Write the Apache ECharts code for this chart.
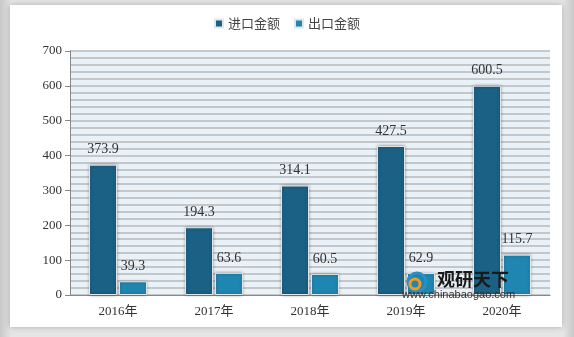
<!DOCTYPE html>
<html><head><meta charset="utf-8">
<script src="https://cdn.jsdelivr.net/npm/echarts@6/dist/echarts.min.js"></script>
<style>html,body{margin:0;padding:0;background:#d9d9d9;}#c{width:574px;height:337px;}</style>
</head><body><div id="c"></div>
<script>
const categories = ['2016年','2017年','2018年','2019年','2020年'];
const importValues = [373.9, 194.3, 314.1, 427.5, 600.5];
const exportValues = [39.3, 63.6, 60.5, 62.9, 115.7];
const seriesNames = ['进口金额','出口金额'];

const chart = echarts.init(document.getElementById('c'));
const serif = '"Liberation Serif","DejaVu Serif","Noto Sans CJK SC",serif';
const labelStyle = {show:true, position:'top', distance:8, color:'#333', fontSize:14, fontFamily:serif};
const barItem = (c) => ({color:c, borderColor:'#e6e6e6', borderWidth:1, shadowBlur:3, shadowColor:'rgba(0,0,0,0.35)'});
chart.setOption({
  backgroundColor:'transparent',
  animation:false,
  graphic:[
    {type:'rect', z:-10, shape:{x:0,y:0,width:574,height:337}, style:{fill:new echarts.graphic.LinearGradient(0,0,1,0,[{offset:0,color:'#c8c8c8'},{offset:0.02,color:'#e6e6e6'},{offset:0.98,color:'#e6e6e6'},{offset:1,color:'#c8c8c8'}])}},
    {type:'rect', z:-9, shape:{x:10,y:5,width:552,height:322}, style:{fill:'#ffffff', shadowBlur:6, shadowColor:'rgba(0,0,0,0.25)'}},
    {type:'circle', z:50, shape:{cx:417,cy:282,r:9}, style:{fill:'none', stroke:'#2a8fc5', lineWidth:3}},
    {type:'circle', z:50, shape:{cx:415,cy:284,r:5}, style:{fill:'none', stroke:'#f39a1e', lineWidth:3}},
    {type:'text', z:50, left:437, top:270, style:{text:'观研天下', font:'bold 18px "Noto Sans CJK SC"', fill:'#1a1a1a'}},
    {type:'text', z:50, left:402, top:289, style:{text:'www.chinabaogao.com', font:'11px "Liberation Sans",sans-serif', fill:'#333'}}
  ],
  legend:{top:12, left:'center', itemWidth:8, itemHeight:8, itemGap:14, icon:'rect',
    textStyle:{fontSize:13, color:'#444', fontFamily:'"Noto Sans CJK SC"'}, data:seriesNames},
  grid:{left:70, right:24, top:51, bottom:42, show:true, backgroundColor:'#eaf2f9', borderWidth:0},
  xAxis:{type:'category', data:categories,
    axisLine:{lineStyle:{color:'#888', width:1}}, axisTick:{show:false},
    axisLabel:{color:'#333', fontSize:13, fontFamily:serif, margin:10}},
  yAxis:{type:'value', min:0, max:700, interval:100,
    axisLine:{show:true, lineStyle:{color:'#888'}}, axisTick:{show:true, length:5, lineStyle:{color:'#888'}},
    axisLabel:{color:'#333', fontSize:13, fontFamily:serif, margin:8},
    splitLine:{show:true, lineStyle:{color:'#b8b8b8', width:1.5}},
    minorTick:{show:false, splitNumber:5},
    minorSplitLine:{show:true, lineStyle:{color:'#b8b8b8', width:1.5}}},
  series:[
    {name:seriesNames[0], type:'bar', data:importValues, barWidth:28, barGap:'7%', itemStyle:barItem('#1a6185'), label:labelStyle},
    {name:seriesNames[1], type:'bar', data:exportValues, barWidth:28, barGap:'7%', itemStyle:barItem('#1f86b1'), label:labelStyle}
  ]
});
</script></body></html>
